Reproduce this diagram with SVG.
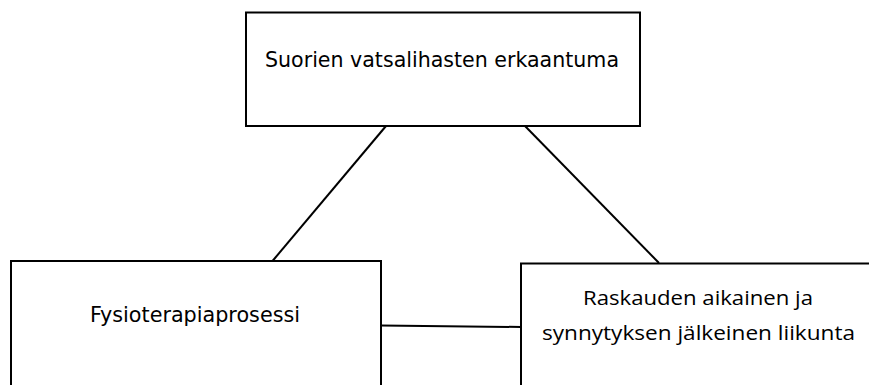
<svg xmlns="http://www.w3.org/2000/svg" width="869" height="385" viewBox="0 0 869 385">
<style>
.box{fill:#fff;stroke:#000;stroke-width:2}
.ln{stroke:#000;stroke-width:2;fill:none}
.t1{font-family:"DejaVu Sans",Verdana,sans-serif;font-size:20.5px;fill:#000}
.t2{font-family:"Open Sans","Noto Sans",sans-serif;font-size:20px;fill:#000}
</style>
<rect width="869" height="385" fill="#fff"/>
<g id="connectors">
<line class="ln" x1="386" y1="126" x2="272.5" y2="261"/>
<line class="ln" x1="525" y1="126" x2="659" y2="263"/>
<line class="ln" x1="381" y1="325.5" x2="521" y2="327"/>
</g>
<g id="node-top">
<rect class="box" x="246" y="12.5" width="394" height="113.5"/>
<text class="t1" x="442" y="67" text-anchor="middle" textLength="354" lengthAdjust="spacingAndGlyphs">Suorien vatsalihasten erkaantuma</text>
</g>
<g id="node-left">
<rect class="box" x="11" y="261" width="370" height="140"/>
<text class="t1" x="195" y="322" text-anchor="middle" textLength="210" lengthAdjust="spacingAndGlyphs">Fysioterapiaprosessi</text>
</g>
<g id="node-right">
<rect class="box" x="521" y="263.5" width="370" height="140"/>
<text class="t2" x="698" y="305" text-anchor="middle" textLength="230" lengthAdjust="spacingAndGlyphs">Raskauden aikainen ja</text>
<text class="t2" x="698.5" y="340" text-anchor="middle" textLength="313" lengthAdjust="spacingAndGlyphs">synnytyksen jälkeinen liikunta</text>
</g>
</svg>
